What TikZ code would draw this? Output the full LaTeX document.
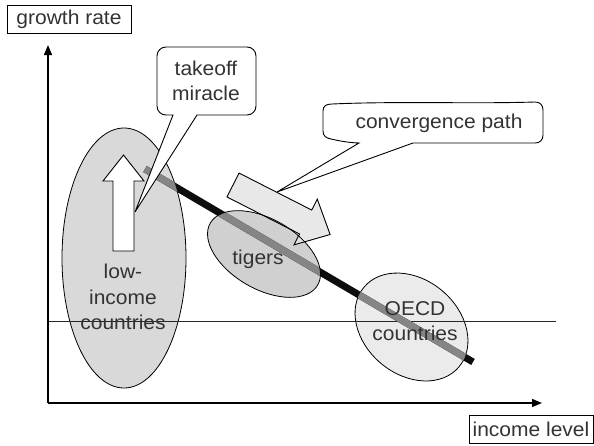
\documentclass[tikz,border=0pt]{standalone}
\usepackage{fontspec}
\setmainfont{Liberation Sans}[FakeStretch=1.05]
\usetikzlibrary{arrows.meta}
\definecolor{lowfill}{HTML}{D9D9D9}
\definecolor{tigfill}{HTML}{D0D0D0}
\definecolor{oecdfill}{HTML}{EBEBEB}
\definecolor{arrfill}{HTML}{E4E4E4}
\definecolor{trendgray}{HTML}{858585}
\definecolor{txt}{HTML}{333333}
\begin{document}
\begin{tikzpicture}[x=1pt,y=-1pt,
  lbl/.style={font=\fontsize{20}{25.5}\selectfont, text=txt, inner sep=0pt, align=center},
  boxlbl/.style={lbl, draw=black, line width=0.9pt, minimum width=124pt, minimum height=28pt},
  blob/.style={draw=black, line width=0.8pt},
  axis/.style={line width=1.3pt, -{Triangle[length=10pt,width=8pt]}},
  trend/.style={line width=7pt, line cap=butt},
  callout/.style={draw=black, line width=0.9pt, fill=white, line join=miter},
  blockarrow/.style={draw=black, line width=0.9pt}]
\useasboundingbox (0,0) rectangle (594,445);
\coordinate (lowc) at (124,258);
\coordinate (tigc) at (264,254);
\coordinate (oecdc) at (411.5,327);
\coordinate (orig) at (48,403);
\coordinate (ytip) at (48,45);
\coordinate (xtip) at (542,403);
\coordinate (zl) at (48,321);
\coordinate (zr) at (556,321);
\coordinate (t1) at (145,169);
\coordinate (t2) at (473,362);
% ellipses
\fill[lowfill] (lowc) ellipse [x radius=62, y radius=130];
\draw[blob] (lowc) ellipse [x radius=62, y radius=130];
\fill[tigfill, rotate around={-30:(tigc)}] (tigc) ellipse [x radius=62, y radius=35];
\fill[oecdfill, rotate around={-40:(oecdc)}] (oecdc) ellipse [x radius=62, y radius=47.5];
\draw[blob, rotate around={-40:(oecdc)}] (oecdc) ellipse [x radius=62, y radius=47.5];
% zero line and axes
\draw[line width=0.9pt, black!85] (zl) -- (zr);
\draw[axis] (orig) -- (ytip);
\draw[axis] (orig) -- (xtip);
% trend line
\draw[trend, black!95] (t1) -- (t2);
\begin{scope}
  \clip (lowc) ellipse [x radius=62, y radius=130];
  \draw[trend, trendgray] (t1) -- (t2);
\end{scope}
\begin{scope}
  \clip[rotate around={-30:(tigc)}] (tigc) ellipse [x radius=62, y radius=35];
  \draw[trend, trendgray] (t1) -- (t2);
\end{scope}
\begin{scope}
  \clip[rotate around={-40:(oecdc)}] (oecdc) ellipse [x radius=62, y radius=47.5];
  \draw[trend, trendgray] (t1) -- (t2);
\end{scope}
% takeoff arrow
\draw[blockarrow, fill=white] (113,251) -- (113,181) -- (103,181) -- (123.5,155) -- (144,181) -- (134,181) -- (134,251) -- cycle;
% convergence arrow
\begin{scope}[shift={(233,185)}, rotate=-27]
  \draw[blockarrow, fill=arrfill, fill opacity=0.85] (0,13.4) -- (81.5,13.4) -- (81.5,25.7) -- (109,0) -- (81.5,-25.7) -- (81.5,-13.4) -- (0,-13.4) -- cycle;
\end{scope}
\draw[blob, rotate around={-30:(tigc)}] (tigc) ellipse [x radius=62, y radius=35];
% callouts
\draw[callout] (173,115) -- (166,115) .. controls (161,115) and (157,111) .. (157,106) -- (157,56)
  .. controls (157,51) and (161,47) .. (166,47) -- (247,47) .. controls (252,47) and (256,51) .. (256,56)
  -- (256,106) .. controls (256,111) and (252,115) .. (247,115) -- (197,115) -- (135,212) -- cycle;
\draw[callout] (359,143) .. controls (345,142.5) and (336,140) .. (331,139) .. controls (326,138) and (323,136) .. (323,131)
  -- (323,111) .. controls (323,106) and (326,104) .. (332,104) .. controls (400,101) and (470,104) .. (535,102)
  .. controls (540,102) and (543,105) .. (543,110) -- (543,135) .. controls (543,140) and (540,143) .. (535,143)
  -- (413,143) -- (277,192) -- cycle;
% labels
\node[boxlbl] (gr) at (69,19) {growth rate};
\node[boxlbl] (il) at (531,429) {income level};
\node[lbl] (tm) at (206,81) {takeoff\\miracle};
\node[lbl, anchor=base] (cp) at (439,128) {convergence path};
\node[lbl] (lic) at (123,297) {low-\\income\\countries};
\node[lbl, anchor=base] (tg) at (258,264) {tigers};
\node[lbl] (oe) at (415,321) {OECD\\countries};
\end{tikzpicture}
\end{document}
